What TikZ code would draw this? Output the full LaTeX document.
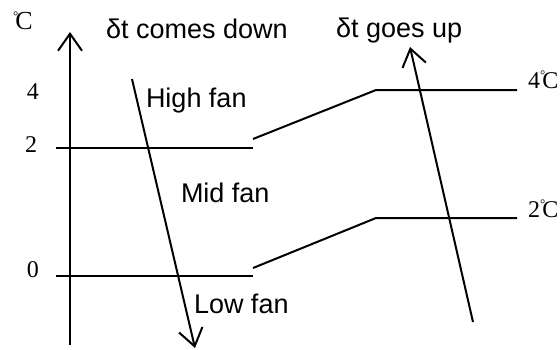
\documentclass[tikz,border=0pt]{standalone}
\usepackage{fontspec}
\setmainfont{Liberation Sans}
\newfontfamily\sernum{Liberation Serif}
\usetikzlibrary{arrows.meta}
\newcommand\mydegc{{\fontsize{13}{13}\selectfont\raisebox{8.3pt}{°}}\kern-2.8pt C}
\begin{document}
\begin{tikzpicture}[x=1pt,y=-1pt, line width=2pt,
  lbl/.style={font=\fontsize{27}{30}\selectfont, inner sep=0pt},
  num/.style={font=\sernum\fontsize{24}{27}\selectfont, inner sep=0pt},
  unitlbl/.style={font=\sernum\fontsize{26}{28}\selectfont, inner sep=0pt},
  arr/.style={-{Straight Barb[length=17pt,width=24pt,line width=2pt]}}]
\useasboundingbox (0,0) rectangle (560,349);
% coordinates
\coordinate (ab) at (70,345);
\coordinate (at) at (70,32);
\coordinate (h2l) at (56,148);
\coordinate (h2r) at (253,148);
\coordinate (h0l) at (56,276);
\coordinate (h0r) at (253,276);
\coordinate (s4a) at (253,139);
\coordinate (s4b) at (376,90);
\coordinate (s4c) at (517,90);
\coordinate (s2a) at (253,268);
\coordinate (s2b) at (376,218);
\coordinate (s2c) at (517,218);
\coordinate (da) at (132,79);
\coordinate (db) at (195,348);
\coordinate (ua) at (473,322);
\coordinate (ub) at (410,47);
% lines
\draw[arr] (ab) -- (at);
\draw (h2l) -- (h2r);
\draw (h0l) -- (h0r);
\draw (s4a) -- (s4b) -- (s4c);
\draw (s2a) -- (s2b) -- (s2c);
\draw[arr] (da) -- (db);
\draw[arr] (ua) -- (ub);
% labels
\node[unitlbl, anchor=base west] (unit) at (12,29) {\mydegc};
\node[lbl, anchor=base west] (down) at (105,38) {δt comes down};
\node[lbl, anchor=base west] (up) at (335,37) {δt goes up};
\node[lbl, anchor=base west] (high) at (145,107) {High fan};
\node[lbl, anchor=base west] (mid) at (180,202) {Mid fan};
\node[lbl, anchor=base west] (low) at (193,313) {Low fan};
\node[num, anchor=base] (n4) at (33,99) {4};
\node[num, anchor=base] (n2) at (31,152) {2};
\node[num, anchor=base] (n0) at (33,277) {0};
\node[num, anchor=base west] (r4) at (527,88) {4\mydegc};
\node[num, anchor=base west] (r2) at (527,217) {2\mydegc};
\end{tikzpicture}
\end{document}
